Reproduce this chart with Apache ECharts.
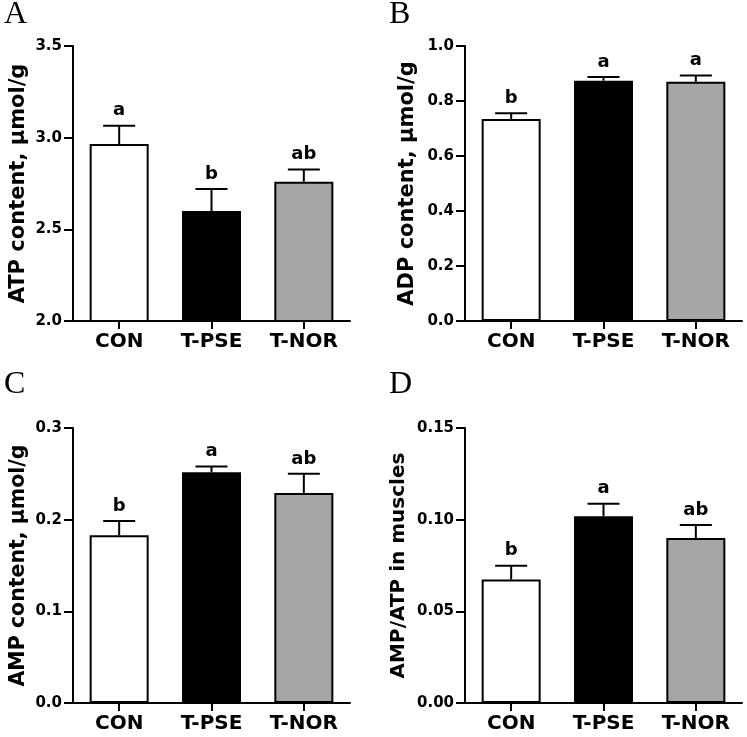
<!DOCTYPE html>
<html>
<head>
<meta charset="utf-8">
<script src="https://cdn.jsdelivr.net/npm/echarts@6/dist/echarts.min.js"></script>
<style>
html,body{margin:0;padding:0;background:#fff;}
#chart{width:747px;height:737px;}
</style>
</head>
<body>
<div id="chart"></div>
<script>
// ---- data ----
const categories = ['CON', 'T-PSE', 'T-NOR'];
const atpMean = [2.965, 2.60, 2.76];
const atpSem = [0.10, 0.12, 0.067];
const atpLetters = ['a', 'b', 'ab'];
const adpMean = [0.7345, 0.874, 0.870];
const adpSem = [0.021, 0.013, 0.023];
const adpLetters = ['b', 'a', 'a'];
const ampMean = [0.183, 0.2516, 0.229];
const ampSem = [0.0155, 0.0064, 0.021];
const ampLetters = ['b', 'a', 'ab'];
const ratioMean = [0.0673, 0.1018, 0.090];
const ratioSem = [0.0076, 0.0069, 0.0071];
const ratioLetters = ['b', 'a', 'ab'];
const yNames = ['ATP content, \u03bcmol/g', 'ADP content, \u03bcmol/g', 'AMP content, \u03bcmol/g', 'AMP/ATP in muscles'];
const yMin = [2.0, 0, 0, 0];
const yMax = [3.5, 1.0, 0.3, 0.15];
const yInterval = [0.5, 0.2, 0.1, 0.05];
const yDecimals = [1, 1, 1, 2];
const panelLetters = ['A', 'B', 'C', 'D'];

const barColors = ['#ffffff', '#000000', '#a6a6a6'];
const panels = [
  {mean: atpMean, sem: atpSem, letters: atpLetters},
  {mean: adpMean, sem: adpSem, letters: adpLetters},
  {mean: ampMean, sem: ampSem, letters: ampLetters},
  {mean: ratioMean, sem: ratioSem, letters: ratioLetters}
];

const gridRects = [
  {left: 73, top: 46, width: 277, height: 275},
  {left: 465, top: 46, width: 277, height: 275},
  {left: 73, top: 428, width: 277, height: 275},
  {left: 465, top: 428, width: 277, height: 275}
];
const nameGaps = [44, 47, 44, 56];
const nameSizes = [21, 21, 20.5, 20];
const letterPos = [[4, -1], [389, -1], [4, 369], [389, 369]];

const FONT = '"DejaVu Sans", "Liberation Sans", Arial, sans-serif';

const chart = echarts.init(document.getElementById('chart'), null, {renderer: 'canvas'});

const grid = [], xAxis = [], yAxis = [], series = [];
panels.forEach((p, k) => {
  grid.push(Object.assign({containLabel: false}, gridRects[k]));
  xAxis.push({
    type: 'category', gridIndex: k, data: categories, boundaryGap: true,
    axisLine: {show: true, lineStyle: {color: '#000', width: 2}},
    axisTick: {show: true, alignWithLabel: true, length: 8, lineStyle: {color: '#000', width: 2}},
    axisLabel: {color: '#000', fontFamily: FONT, fontWeight: 'bold', fontSize: 20, margin: 11},
    splitLine: {show: false}
  });
  yAxis.push({
    type: 'value', gridIndex: k, min: yMin[k], max: yMax[k], interval: yInterval[k],
    name: yNames[k], nameLocation: 'middle', nameGap: nameGaps[k],
    nameTextStyle: {color: '#000', fontFamily: FONT, fontWeight: 'bold', fontSize: nameSizes[k]},
    axisLine: {show: true, lineStyle: {color: '#000', width: 2}},
    axisTick: {show: true, length: 9, lineStyle: {color: '#000', width: 2}},
    axisLabel: {color: '#000', fontFamily: FONT, fontWeight: 'bold', fontSize: 15, margin: 11,
      formatter: v => Number(v).toFixed(yDecimals[k])},
    splitLine: {show: false}
  });
  series.push({
    type: 'bar', xAxisIndex: k, yAxisIndex: k, barWidth: 59,
    data: p.mean.map((v, i) => ({value: v, itemStyle: {color: barColors[i], borderColor: '#000', borderWidth: 2}})),
    clip: true, silent: true, animation: false
  });
  series.push({
    type: 'custom', xAxisIndex: k, yAxisIndex: k, z: 5, animation: false, silent: true,
    data: p.mean.map((v, i) => [i, v, v + p.sem[i]]),
    encode: {x: 0, y: 2},
    renderItem: (params, api) => {
      const i = api.value(0), m = api.value(1), u = api.value(2);
      const p0 = api.coord([i, m]);
      const p1 = api.coord([i, u]);
      const lbl = p.letters[params.dataIndex];
      return {
        type: 'group', children: [
          {type: 'line', shape: {x1: p0[0], y1: p0[1], x2: p1[0], y2: p1[1]}, style: {stroke: '#000', lineWidth: 2}},
          {type: 'line', shape: {x1: p1[0] - 16, y1: p1[1], x2: p1[0] + 16, y2: p1[1]}, style: {stroke: '#000', lineWidth: 2}},
          {type: 'text', x: p1[0], y: p1[1] - 6, style: {text: lbl, fill: '#000', font: 'bold 18px ' + FONT, align: 'center', verticalAlign: 'bottom'}}
        ]
      };
    }
  });
});

const graphic = panelLetters.map((t, k) => ({
  type: 'text', left: letterPos[k][0], top: letterPos[k][1],
  style: {text: t, fill: '#000', font: '32px "Liberation Serif", "Times New Roman", serif'}
}));

chart.setOption({
  animation: false,
  backgroundColor: '#fff',
  grid, xAxis, yAxis, series, graphic
});
</script>
</body>
</html>
